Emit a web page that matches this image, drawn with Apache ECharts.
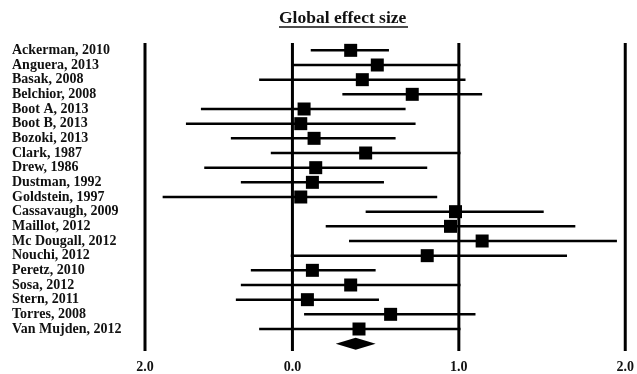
<!DOCTYPE html>
<html>
<head>
<meta charset="utf-8">
<script src="https://cdn.jsdelivr.net/npm/echarts@6/dist/echarts.min.js"></script>
<style>
html, body { margin: 0; padding: 0; background: #fff; }
#box { width: 637px; height: 374px; }
</style>
</head>
<body>
<div id="box"></div>
<script>
// studies, top to bottom
var studies = ['Ackerman, 2010', 'Anguera, 2013', 'Basak, 2008', 'Belchior, 2008', 'Boot A, 2013',
	'Boot B, 2013', 'Bozoki, 2013', 'Clark, 1987', 'Drew, 1986', 'Dustman, 1992', 'Goldstein, 1997',
	'Cassavaugh, 2009', 'Maillot, 2012', 'Mc Dougall, 2012', 'Nouchi, 2012', 'Peretz, 2010',
	'Sosa, 2012', 'Stern, 2011', 'Torres, 2008', 'Van Mujden, 2012'];
var effect = [0.35, 0.51, 0.42, 0.72, 0.07, 0.05, 0.13, 0.44, 0.14, 0.12, 0.05,
	0.98, 0.95, 1.14, 0.81, 0.12, 0.35, 0.09, 0.59, 0.40];
var lower = [0.11, 0.00, -0.20, 0.30, -0.55, -0.64, -0.37, -0.13, -0.53, -0.31, -0.78,
	0.44, 0.20, 0.34, -0.01, -0.25, -0.31, -0.34, 0.07, -0.20];
var upper = [0.58, 1.01, 1.04, 1.14, 0.68, 0.74, 0.62, 1.01, 0.81, 0.55, 0.87,
	1.51, 1.70, 1.95, 1.65, 0.50, 1.01, 0.52, 1.10, 1.01];
// pooled estimate: lower, effect, upper
var pooled = [0.26, 0.38, 0.50];
// vertical reference lines and their labels
var refLines = [-0.886, 0, 1, 2];
var refLabels = ['2.0', '0.0', '1.0', '2.0'];

var myChart = echarts.init(document.getElementById('box'));

var rows = [];
for (var i = 0; i < studies.length; i++) {
	rows.push([lower[i], effect[i], upper[i], i]);
}
var pooledRow = [[pooled[0], pooled[1], pooled[2], studies.length]];
var refRows = refLines.map(function (v) { return [v, 0]; });

function renderStudy(params, api) {
	var row = api.value(3);
	var a = api.coord([api.value(0), row]);
	var m = api.coord([api.value(1), row]);
	var b = api.coord([api.value(2), row]);
	var s = 13;
	return {
		type: 'group',
		children: [
			{type: 'line', shape: {x1: a[0], y1: a[1], x2: b[0], y2: b[1]}, style: {stroke: '#000', lineWidth: 2.5}},
			{type: 'rect', shape: {x: m[0] - s / 2, y: m[1] - s / 2, width: s, height: s}, style: {fill: '#000'}}
		]
	};
}

function renderDiamond(params, api) {
	var row = api.value(3);
	var a = api.coord([api.value(0), row]);
	var m = api.coord([api.value(1), row]);
	var b = api.coord([api.value(2), row]);
	return {
		type: 'polygon',
		shape: {points: [a, [m[0], m[1] - 6], b, [m[0], m[1] + 6]]},
		style: {fill: '#000'}
	};
}

// full-height vertical line at an x value
function renderRef(params, api) {
	var p = api.coord([api.value(0), 0]);
	var cs = params.coordSys;
	return {
		type: 'line',
		shape: {x1: p[0], y1: cs.y, x2: p[0], y2: cs.y + cs.height},
		style: {stroke: '#000', lineWidth: 3}
	};
}

var serif = '"Liberation Serif", "DejaVu Serif", serif';

var option = {
	animation: false,
	title: {
		text: 'Global effect size',
		left: 279,
		top: 9,
		padding: 0,
		textStyle: {fontFamily: serif, fontWeight: 'bold', fontSize: 17.5, color: '#111'}
	},
	graphic: [
		{type: 'line', shape: {x1: 279, y1: 27, x2: 408, y2: 27}, style: {stroke: '#111', lineWidth: 1.5}}
	],
	grid: {left: 145, right: 11, top: 43, bottom: 22},
	xAxis: {
		type: 'value',
		min: refLines[0],
		max: 2,
		axisLine: {show: false},
		axisTick: {show: false},
		splitLine: {show: false},
		axisLabel: {
			customValues: refLines,
			margin: 9,
			fontFamily: serif,
			fontWeight: 'bold',
			fontSize: 14,
			color: '#111',
			formatter: function (v) {
				var k = 0;
				for (var j = 0; j < refLines.length; j++) {
					if (Math.abs(refLines[j] - v) < Math.abs(refLines[k] - v)) k = j;
				}
				return refLabels[k];
			}
		}
	},
	yAxis: {
		type: 'category',
		data: studies.concat(['']),
		inverse: true,
		axisLine: {show: false},
		axisTick: {show: false},
		splitLine: {show: false},
		axisLabel: {
			interval: 0,
			align: 'left',
			margin: 133,
			fontFamily: serif,
			fontWeight: 'bold',
			fontSize: 14,
			color: '#111'
		}
	},
	series: [
		{
			type: 'custom',
			renderItem: renderRef,
			encode: {x: 0, y: 1},
			data: refRows
		},
		{
			type: 'custom',
			renderItem: renderStudy,
			encode: {x: [0, 1, 2], y: 3},
			data: rows
		},
		{
			type: 'custom',
			renderItem: renderDiamond,
			encode: {x: [0, 1, 2], y: 3},
			data: pooledRow
		}
	]
};
myChart.setOption(option);
</script>
</body>
</html>
